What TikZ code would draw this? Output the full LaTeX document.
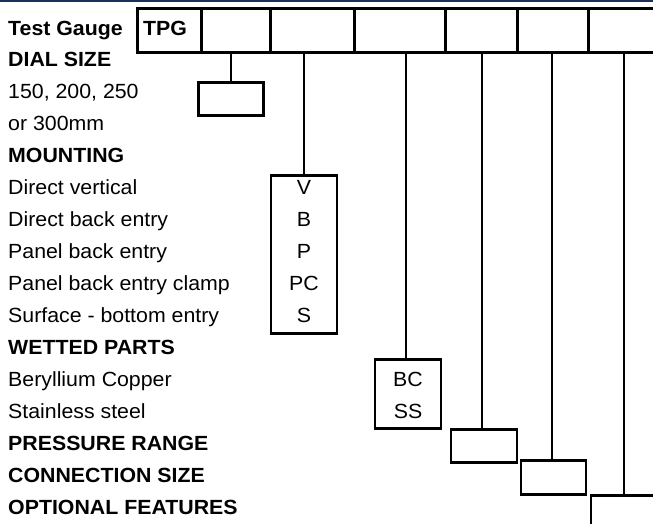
\documentclass[tikz,border=0pt]{standalone}
\usepackage{fontspec}
\setmainfont{Liberation Sans}[FakeStretch=1.04]
\definecolor{navy}{HTML}{1B2F5C}
\begin{document}
\begin{tikzpicture}[x=1pt,y=-1pt,
  lbl/.style={anchor=base west,inner sep=0pt,font=\fontsize{20.5}{24}\selectfont},
  hd/.style={lbl,font=\fontsize{20.5}{24}\selectfont\bfseries},
  box/.style={draw,line width=2.6pt,rectangle,inner sep=0pt},
  code/.style={anchor=base,inner sep=0pt,font=\fontsize{20.5}{24}\selectfont},
  wire/.style={line width=2.6pt}]
\useasboundingbox (0,0) rectangle (653,523);
\fill[navy] (0,0) rectangle (653,2);
% header cells
\node[box,anchor=north west,minimum width=64pt,minimum height=44pt] (c1) at (136,7) {};
\node[box,anchor=north west,minimum width=69pt,minimum height=44pt] (c2) at (200,7) {};
\node[box,anchor=north west,minimum width=84pt,minimum height=44pt] (c3) at (269,7) {};
\node[box,anchor=north west,minimum width=91pt,minimum height=44pt] (c4) at (353,7) {};
\node[box,anchor=north west,minimum width=72pt,minimum height=44pt] (c5) at (444,7) {};
\node[box,anchor=north west,minimum width=71pt,minimum height=44pt] (c6) at (516,7) {};
\node[box,anchor=north west,minimum width=80pt,minimum height=44pt] (c7) at (587,7) {};
\node[hd] (tpg) at (143,35) {TPG};
% left labels
\node[hd]  (l0)  at (8,35)    {Test Gauge};
\node[hd]  (l1)  at (8,66.9)  {DIAL SIZE};
\node[lbl] (l2)  at (8,98.9)  {150, 200, 250};
\node[lbl] (l3)  at (8,130.8) {or 300mm};
\node[hd]  (l4)  at (8,162.8) {MOUNTING};
\node[lbl] (l5)  at (8,194.7) {Direct vertical};
\node[lbl] (l6)  at (8,226.7) {Direct back entry};
\node[lbl] (l7)  at (8,258.6) {Panel back entry};
\node[lbl] (l8)  at (8,290.6) {Panel back entry clamp};
\node[lbl] (l9)  at (8,322.5) {Surface - bottom entry};
\node[hd]  (l10) at (8,354.5) {WETTED PARTS};
\node[lbl] (l11) at (8,386.4) {Beryllium Copper};
\node[lbl] (l12) at (8,418.4) {Stainless steel};
\node[hd]  (l13) at (8,450.3) {PRESSURE RANGE};
\node[hd]  (l14) at (8,482.3) {CONNECTION SIZE};
\node[hd]  (l15) at (8,514.2) {OPTIONAL FEATURES};
% option boxes
\node[box,anchor=north,minimum width=65pt,minimum height=33pt] (dial) at (231,81) {};
\node[box,anchor=north,minimum width=66pt,minimum height=158pt] (mount) at (304,174) {};
\node[box,anchor=north,minimum width=66pt,minimum height=69pt] (wet) at (408,358) {};
\node[box,anchor=north,minimum width=66pt,minimum height=33pt] (press) at (484,428) {};
\node[box,anchor=north,minimum width=65pt,minimum height=34pt] (conn) at (553.5,459) {};
\node[box,anchor=north,minimum width=66pt,minimum height=40pt] (opt) at (624,494) {};
% codes
\node[code] (m1) at (304,194.7) {V};
\node[code] (m2) at (304,226.7) {B};
\node[code] (m3) at (304,258.6) {P};
\node[code] (m4) at (304,290.6) {PC};
\node[code] (m5) at (304,322.5) {S};
\node[code] (w1) at (408,386.4) {BC};
\node[code] (w2) at (408,418.4) {SS};
% connectors
\draw[wire] (dial.north) -- (dial.north |- c2.south);
\draw[wire] (mount.north) -- (mount.north |- c3.south);
\draw[wire] ([xshift=-2pt]wet.north) -- ([xshift=-2pt]wet.north |- c4.south);
\draw[wire] ([xshift=-2pt]press.north) -- ([xshift=-2pt]press.north |- c5.south);
\draw[wire] ([xshift=-1.5pt]conn.north) -- ([xshift=-1.5pt]conn.north |- c6.south);
\draw[wire] (opt.north) -- (opt.north |- c7.south);
\end{tikzpicture}
\end{document}
